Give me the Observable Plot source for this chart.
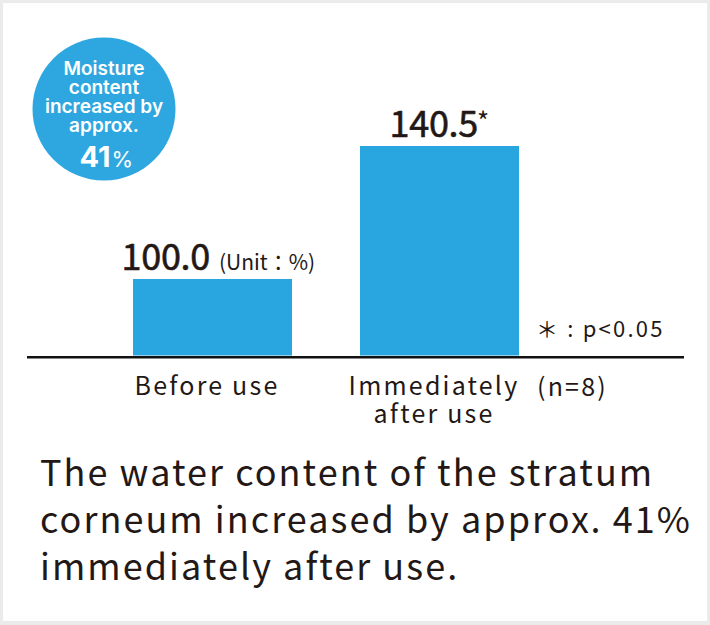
<!DOCTYPE html>
<html>
<head>
<meta charset="utf-8">
<script src="https://cdn.jsdelivr.net/npm/d3@7"></script>
<script src="https://cdn.jsdelivr.net/npm/@observablehq/plot@0.6"></script>
<style>
  html, body { margin: 0; padding: 0; background: #fff; }
  #frame { position: relative; width: 710px; height: 625px; background: #ebebeb; overflow: hidden; }
  #inner { position: absolute; left: 3px; top: 3px; width: 704px; height: 618px; background: #fff; }
  #chart { position: absolute; left: 0; top: 0; }
  #caption { position: absolute; left: 40px; top: 447px; font-family: "Noto Sans CJK JP", sans-serif;
    font-size: 36px; letter-spacing: 2.05px; line-height: 47px; color: #231815; white-space: pre-line; }
  .tick { letter-spacing: 2.2px; }
  .note { letter-spacing: 2.2px; }
  .num { letter-spacing: -0.3px; }
  .badge { font-family: Inter, "Open Sans", sans-serif; }
</style>
</head>
<body>
<div id="frame">
  <div id="inner"></div>
  <div id="chart"></div>
  <div id="caption"></div>
</div>
<script>
const categories = ["Before use", "Immediately after use"];
const tickLabels = ["Before use", "Immediately\nafter use"];
const values = [100.0, 140.5];
const valueLabels = ["100.0", "140.5"];
const significance = ["", "*"];
const unitLabel = "(Unit：%)";
const pNote = "＊ : p<0.05";
const nNote = "(n=8)";
const badgeLines = ["Moisture", "content", "increased by", "approx."];
const badgeValue = "41";
const badgeUnit = "%";
const captionLines = ["The water content of the stratum", "corneum increased by approx. 41%", "immediately after use."];
const yBase = 76.7;

const barColor = "#29a5df";
const textColor = "#231815";
const idx = d3.range(categories.length);

const chart = Plot.plot({
  width: 710,
  height: 440,
  marginLeft: 27,
  marginRight: 26,
  marginTop: 0,
  marginBottom: 0,
  style: {fontFamily: "'Noto Sans CJK JP', sans-serif", color: textColor, background: "transparent"},
  x: {domain: categories, range: [132, 520], paddingInner: 0.298, paddingOuter: 0, axis: null},
  y: {domain: [yBase, d3.max(values)], range: [355.5, 146], axis: null},
  marks: [
    Plot.barY(idx, {x: i => categories[i], y1: () => yBase, y2: i => values[i], fill: barColor}),
    Plot.ruleY([yBase], {stroke: "#111", strokeWidth: 2.6, dy: 1.3}),
    // value labels
    Plot.text([0], {x: i => categories[i], y: i => values[i], text: i => valueLabels[i],
      textAnchor: "end", lineAnchor: "bottom", dx: -3, dy: -9.5, fontSize: 36, fontWeight: 400,
      fill: textColor, stroke: textColor, strokeWidth: 0.6, className: "num"}),
    Plot.text([0], {x: i => categories[i], y: i => values[i], text: () => unitLabel,
      textAnchor: "start", lineAnchor: "bottom", dx: 6, dy: -9.5, fontSize: 21}),
    Plot.text([1], {x: i => categories[i], y: i => values[i], text: i => valueLabels[i],
      textAnchor: "end", lineAnchor: "bottom", dx: 38, dy: -9.5, fontSize: 36, fontWeight: 400,
      fill: textColor, stroke: textColor, strokeWidth: 0.6, className: "num"}),
    Plot.text([1], {x: i => categories[i], y: i => values[i], text: i => significance[i],
      textAnchor: "start", lineAnchor: "bottom", dx: 37, dy: -16, fontSize: 26}),
    // category labels
    Plot.text(idx, {x: i => categories[i], y: () => yBase, text: i => tickLabels[i],
      lineAnchor: "top", lineHeight: 1.12, dx: -6, dy: 19.5, fontSize: 25, className: "tick"}),
    // notes
    Plot.text([1], {x: i => categories[i], y: () => yBase, text: () => pNote,
      textAnchor: "start", lineAnchor: "bottom", dx: 96, dy: -19.5, fontSize: 22, className: "note"}),
    Plot.text([1], {x: i => categories[i], y: () => yBase, text: () => nNote,
      textAnchor: "start", lineAnchor: "bottom", dx: 97, dy: 39.5, fontSize: 25, className: "note"}),
    // badge
    Plot.dot([0], {frameAnchor: "top-left", dx: 76.5, dy: 108.5, r: 71.5, fill: "#2ea7e0", stroke: "none"}),
    Plot.text([badgeLines.join("\n")], {frameAnchor: "top-left", dx: 76.5, dy: 60.4, text: d => d,
      textAnchor: "middle", lineAnchor: "top", lineHeight: 1.01, fontSize: 19, fontWeight: 600, fill: "#fff", className: "badge"}),
    Plot.text([badgeValue], {frameAnchor: "top-left", dx: 83, dy: 166.7, text: d => d,
      textAnchor: "end", lineAnchor: "bottom", fontSize: 29, fontWeight: 700, fill: "#fff", className: "badge"}),
    Plot.text([badgeUnit], {frameAnchor: "top-left", dx: 84, dy: 166.7, text: d => d,
      textAnchor: "start", lineAnchor: "bottom", fontSize: 22, fontWeight: 400, fill: "#fff", className: "badge"})
  ]
});
document.getElementById("chart").appendChild(chart);
document.getElementById("caption").textContent = captionLines.join("\n");
</script>
</body>
</html>
